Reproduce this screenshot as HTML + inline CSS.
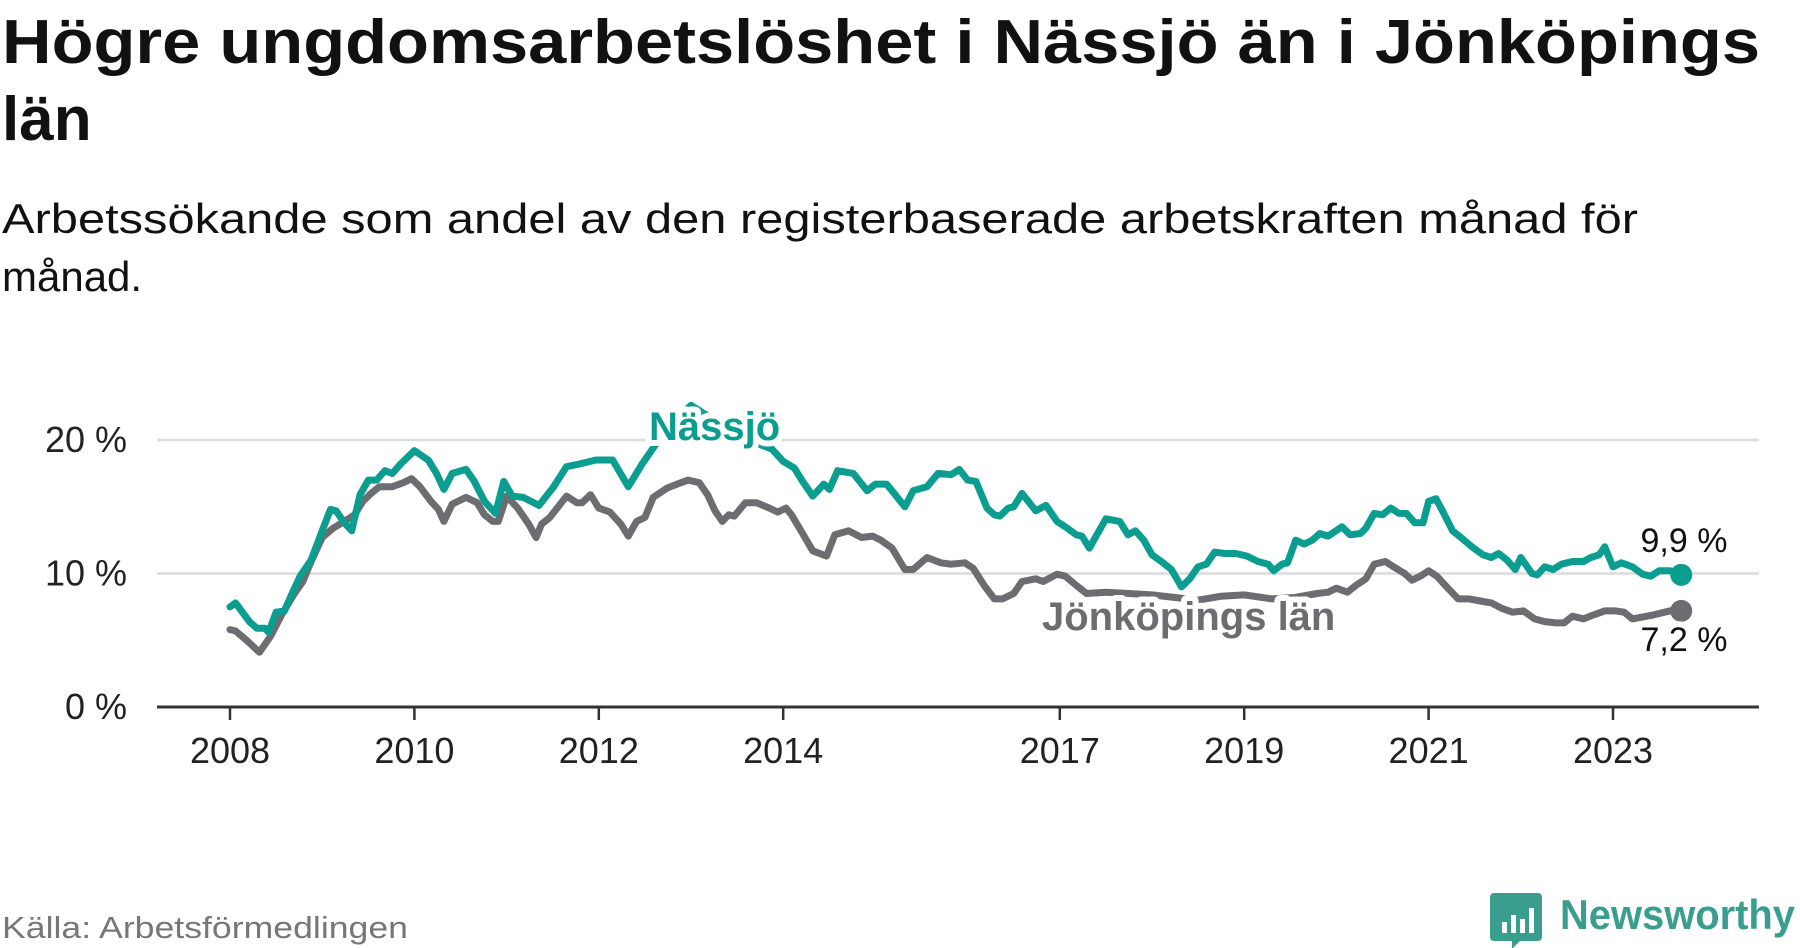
<!DOCTYPE html>
<html><head><meta charset="utf-8">
<style>
html,body{margin:0;padding:0;background:#fff;width:1800px;height:948px;overflow:hidden}
svg{display:block;font-family:"Liberation Sans","DejaVu Sans",sans-serif}
</style></head>
<body>
<svg id="chart" width="1800" height="948" viewBox="0 0 1800 948" xmlns="http://www.w3.org/2000/svg">
  <text x="2" y="63" font-size="62" font-weight="bold" fill="#111" textLength="1758" lengthAdjust="spacingAndGlyphs">Högre ungdomsarbetslöshet i Nässjö än i Jönköpings</text>
  <text x="2" y="140" font-size="62" font-weight="bold" fill="#111">län</text>
  <text x="2" y="233" font-size="42" fill="#111" textLength="1636" lengthAdjust="spacingAndGlyphs">Arbetssökande som andel av den registerbaserade arbetskraften månad för</text>
  <text x="2" y="291" font-size="42" fill="#111">månad.</text>
  <g id="plot"></g>
  <text x="2" y="938" font-size="31" fill="#777" textLength="406" lengthAdjust="spacingAndGlyphs">Källa: Arbetsförmedlingen</text>
  <g>
    <path d="M1494 893 h44 a4 4 0 0 1 4 4 v40 a4 4 0 0 1 -4 4 h-18 l-8 8 v-8 h-18 a4 4 0 0 1 -4 -4 v-40 a4 4 0 0 1 4 -4z" fill="#3a9e8e"/>
    <rect x="1502" y="922" width="5" height="11" fill="#fff"/>
    <rect x="1511" y="915" width="5" height="18" fill="#fff"/>
    <rect x="1520" y="919" width="5" height="14" fill="#fff"/>
    <rect x="1529" y="908" width="5" height="25" fill="#fff"/>
    <text x="1560" y="929" font-size="42" font-weight="bold" fill="#3a9e8e" textLength="235" lengthAdjust="spacingAndGlyphs">Newsworthy</text>
  </g>
</svg>
<script>
const yTicks = [0, 10, 20];
const yTickLabels = ["0 %", "10 %", "20 %"];
const xTicks = [2008, 2010, 2012, 2014, 2017, 2019, 2021, 2023];
const xTickLabels = ["2008", "2010", "2012", "2014", "2017", "2019", "2021", "2023"];

const nassjoDates = [2008.0,2008.06,2008.21,2008.29,2008.38,2008.42,2008.5,2008.59,2008.68,2008.76,2008.88,2009.0,2009.09,2009.15,2009.24,2009.32,2009.41,2009.5,2009.59,2009.68,2009.76,2009.85,2010.0,2010.15,2010.24,2010.32,2010.41,2010.56,2010.65,2010.76,2010.88,2010.97,2011.06,2011.18,2011.35,2011.5,2011.65,2011.79,2011.97,2012.15,2012.32,2012.47,2012.59,2012.75,2013.0,2013.25,2013.5,2013.7,2013.88,2014.0,2014.12,2014.21,2014.32,2014.44,2014.5,2014.59,2014.76,2014.91,2015.0,2015.12,2015.18,2015.32,2015.41,2015.56,2015.68,2015.82,2015.91,2016.0,2016.09,2016.21,2016.29,2016.35,2016.44,2016.5,2016.59,2016.74,2016.85,2016.97,2017.06,2017.18,2017.24,2017.32,2017.5,2017.65,2017.74,2017.82,2017.91,2018.0,2018.12,2018.21,2018.32,2018.41,2018.5,2018.59,2018.68,2018.79,2018.91,2019.03,2019.15,2019.26,2019.32,2019.41,2019.47,2019.56,2019.65,2019.74,2019.82,2019.91,2020.06,2020.15,2020.26,2020.32,2020.41,2020.5,2020.59,2020.68,2020.76,2020.85,2020.94,2021.0,2021.08,2021.15,2021.26,2021.35,2021.47,2021.59,2021.68,2021.76,2021.85,2021.94,2022.0,2022.12,2022.18,2022.26,2022.35,2022.44,2022.56,2022.68,2022.76,2022.85,2022.91,2023.0,2023.09,2023.21,2023.32,2023.41,2023.5,2023.62,2023.74];
const nassjoValues = [7.5,7.8,6.4,5.9,5.9,5.6,7.1,7.2,8.6,9.8,11.0,13.2,14.8,14.7,13.8,13.2,15.9,17.0,17.0,17.7,17.5,18.2,19.2,18.5,17.5,16.3,17.5,17.8,16.9,15.4,14.5,16.9,15.8,15.7,15.1,16.4,18.0,18.2,18.5,18.5,16.5,18.2,19.4,21.0,22.6,21.5,20.5,19.8,19.3,18.4,17.9,16.9,15.8,16.7,16.3,17.7,17.5,16.2,16.7,16.7,16.2,15.0,16.2,16.5,17.5,17.4,17.8,17.0,16.9,14.9,14.4,14.3,14.9,15.0,16.0,14.7,15.1,13.9,13.5,12.9,12.8,11.9,14.1,13.9,12.9,13.2,12.5,11.4,10.8,10.3,9.0,9.6,10.5,10.7,11.6,11.5,11.5,11.3,10.9,10.7,10.2,10.7,10.8,12.5,12.2,12.5,13.0,12.8,13.5,12.9,13.0,13.4,14.5,14.4,14.9,14.5,14.5,13.8,13.8,15.4,15.6,14.7,13.2,12.7,12.0,11.4,11.2,11.5,11.0,10.3,11.2,10.0,9.9,10.5,10.3,10.7,10.9,10.9,11.2,11.4,12.0,10.5,10.8,10.5,9.95,9.8,10.2,10.2,9.9];

const lanDates = [2008.0,2008.06,2008.18,2008.32,2008.44,2008.56,2008.68,2008.79,2008.88,2009.0,2009.12,2009.24,2009.35,2009.44,2009.53,2009.62,2009.76,2009.88,2009.97,2010.06,2010.18,2010.26,2010.32,2010.41,2010.56,2010.68,2010.76,2010.85,2010.91,2011.0,2011.12,2011.24,2011.32,2011.38,2011.47,2011.65,2011.76,2011.82,2011.91,2012.0,2012.12,2012.24,2012.32,2012.41,2012.5,2012.59,2012.74,2012.85,2012.97,2013.09,2013.18,2013.26,2013.34,2013.41,2013.47,2013.59,2013.71,2013.85,2013.94,2014.03,2014.09,2014.21,2014.32,2014.47,2014.56,2014.71,2014.85,2014.97,2015.06,2015.18,2015.32,2015.41,2015.56,2015.71,2015.82,2015.97,2016.06,2016.18,2016.29,2016.38,2016.5,2016.59,2016.74,2016.82,2016.97,2017.06,2017.18,2017.29,2017.5,2017.75,2018.0,2018.25,2018.5,2018.75,2019.0,2019.3,2019.55,2019.79,2019.91,2020.0,2020.12,2020.21,2020.32,2020.41,2020.53,2020.62,2020.74,2020.82,2020.91,2021.0,2021.09,2021.21,2021.32,2021.44,2021.59,2021.68,2021.79,2021.91,2022.03,2022.15,2022.26,2022.38,2022.47,2022.56,2022.68,2022.79,2022.91,2023.03,2023.12,2023.21,2023.44,2023.56,2023.68,2023.74];
const lanValues = [5.8,5.7,5.0,4.1,5.3,6.9,8.3,9.4,10.9,12.7,13.4,13.9,14.4,15.4,16.0,16.5,16.5,16.8,17.1,16.5,15.4,14.8,13.9,15.2,15.7,15.3,14.4,13.9,13.9,15.8,14.9,13.7,12.7,13.7,14.2,15.8,15.3,15.3,15.9,14.9,14.6,13.7,12.8,13.9,14.2,15.7,16.4,16.7,17.0,16.8,15.9,14.7,13.9,14.4,14.3,15.3,15.3,14.9,14.6,14.9,14.4,13.0,11.7,11.3,12.9,13.2,12.7,12.8,12.5,11.9,10.3,10.3,11.2,10.8,10.7,10.8,10.4,9.1,8.1,8.1,8.5,9.4,9.6,9.4,9.95,9.8,9.1,8.5,8.6,8.5,8.4,8.2,8.0,8.3,8.4,8.1,8.2,8.5,8.6,8.9,8.6,9.1,9.6,10.7,10.9,10.5,10.0,9.5,9.8,10.2,9.8,8.9,8.1,8.1,7.9,7.8,7.4,7.1,7.2,6.6,6.4,6.3,6.3,6.8,6.6,6.9,7.2,7.2,7.1,6.6,6.9,7.1,7.3,7.2];

const NS = "http://www.w3.org/2000/svg";
const TEAL = "#0b9e90", GRAY = "#6d6c71";
const xScale = yr => 230 + (yr - 2008) * 92.2;
const yScale = v => 707 - v * 13.35;
const plot = document.getElementById("plot");
function mk(tag, attrs, parent) {
  const e = document.createElementNS(NS, tag);
  for (const k in attrs) e.setAttribute(k, attrs[k]);
  (parent || plot).appendChild(e);
  return e;
}
yTicks.forEach((t, i) => {
  if (t > 0) {
    const g = mk("line", {x1: 157, x2: 1759, y1: yScale(t), y2: yScale(t), stroke: "#dcdcdc", "stroke-width": 2.5});
    
    
  }
  const lb = mk("text", {x: 127, y: yScale(t) + 12, "text-anchor": "end", "font-size": 36, fill: "#222"});
  lb.textContent = yTickLabels[i];
  
  
});
const ax = mk("line", {x1: 157, x2: 1759, y1: yScale(0), y2: yScale(0), stroke: "#333", "stroke-width": 3});


xTicks.forEach((t, i) => {
  const tk = mk("line", {x1: xScale(t), x2: xScale(t), y1: yScale(0), y2: yScale(0) + 13, stroke: "#333", "stroke-width": 2.5});
  
  
  const lb = mk("text", {x: xScale(t), y: 763, "text-anchor": "middle", "font-size": 36, fill: "#222"});
  lb.textContent = xTickLabels[i];
  
  
});
function series(dates, vals, color, name) {
  const d = dates.map((x, i) => (i ? "L" : "M") + xScale(x).toFixed(1) + " " + yScale(vals[i]).toFixed(1)).join(" ");
  const p = mk("path", {d: d, fill: "none", stroke: color, "stroke-width": 7, "stroke-linejoin": "round", "stroke-linecap": "round"});
  
  
  const n = dates.length - 1;
  const c = mk("circle", {cx: xScale(dates[n]), cy: yScale(vals[n]), r: 11, fill: color});
  
  
}
series(lanDates, lanValues, GRAY, "jonkopings-lan");
series(nassjoDates, nassjoValues, TEAL, "nassjo");
function label(txt, x, y, size, weight, color, name, anchor) {
  const t = mk("text", {x: x, y: y, "font-size": size, "font-weight": weight, fill: color, stroke: "#fff", "stroke-width": 12, "stroke-linejoin": "round", "paint-order": "stroke", "text-anchor": anchor || "start"});
  t.textContent = txt;
  
  
}
label("Nässjö", 649, 440, 40, "bold", TEAL, "nassjo-label");
label("Jönköpings län", 1042, 630, 40, "bold", GRAY, "jonkopings-lan-label");
label(nassjoValues[nassjoValues.length - 1].toFixed(1).replace(".", ",") + " %", 1684, 552, 34, "normal", "#111", "nassjo-end-value", "middle");
label(lanValues[lanValues.length - 1].toFixed(1).replace(".", ",") + " %", 1684, 651, 34, "normal", "#111", "jonkopings-lan-end-value", "middle");
</script>
</body></html>
